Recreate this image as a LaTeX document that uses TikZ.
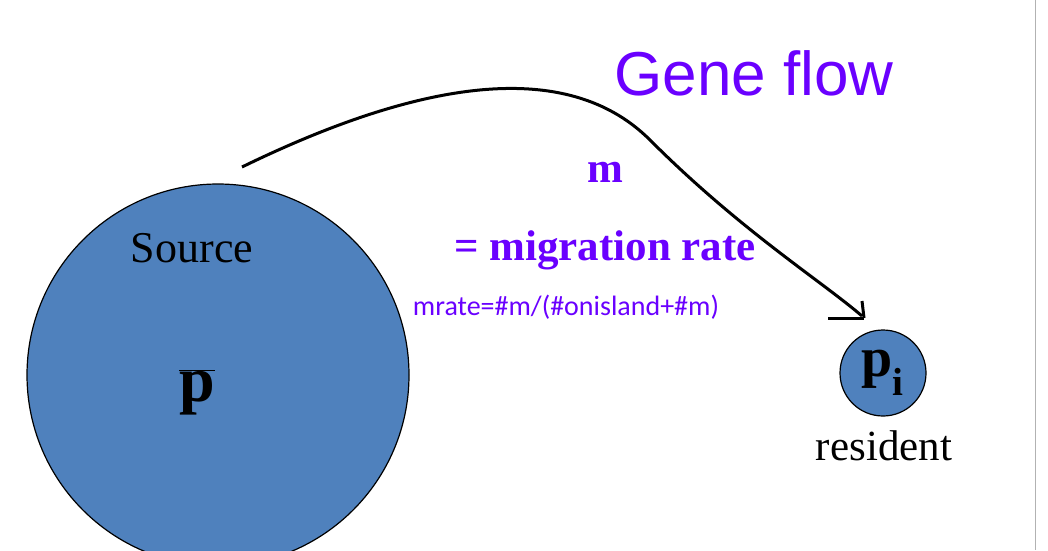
\documentclass[tikz,border=0pt]{standalone}
\usepackage{fontspec}
\setmainfont{Liberation Serif}
\newfontfamily\gfont{Liberation Sans}
\newfontfamily\cfont{Carlito}
\usetikzlibrary{arrows.meta}
\definecolor{purp}{HTML}{6A00FF}
\definecolor{blobfill}{HTML}{4F81BD}
\tikzset{blob/.style={circle,draw=black,line width=1.2pt,fill=blobfill,inner sep=0pt},
  flow/.style={line width=3pt}}
\begin{document}
\begin{tikzpicture}[x=1pt,y=-1pt]
\useasboundingbox (0,0) rectangle (1048,550);
\fill[white] (0,0) rectangle (1048,550);
\draw[gray!60,line width=1pt] (1035,0) -- (1035,550);
\node[blob,minimum size=382pt] (src) at (218,375) {};
\node[blob,minimum size=86pt] (res) at (883,373) {};
\node (srclab) at (192,248) {\fontsize{44}{48}\selectfont Source};
\node (pbar) at (197,392) {\fontsize{64}{68}\selectfont $\overline{\mathbf{p}}$};
\node (pi) at (883,373) {\fontsize{56}{60}\selectfont $\mathbf{p}_{\mathbf{i}}$};
\node (reslab) at (884,446) {\fontsize{43}{47}\selectfont resident};
\node[purp] (title) at (754,73) {\gfont\fontsize{62}{66}\selectfont Gene flow};
\node[purp] (m) at (605,172) {\fontsize{43}{47}\selectfont\bfseries m};
\node[purp] (mig) at (605,250) {\fontsize{43}{47}\selectfont\bfseries = migration rate};
\node[purp] (mr) at (566,307) {\cfont\fontsize{28}{32}\selectfont mrate=\#m/(\#onisland+\#m)};
\coordinate (a0) at (242,167);
\coordinate (a1) at (862,316);
\coordinate (h1) at (828,318);
\coordinate (h2) at (864,318);
\coordinate (v1) at (862,301);
\draw[flow] (a0) .. controls (400,90) and (560,50) .. (650,140) .. controls (740,230) and (820,280) .. (a1);
\draw[flow] (h1) -- (h2);
\draw[flow] (v1) -- (h2);
\end{tikzpicture}
\end{document}
